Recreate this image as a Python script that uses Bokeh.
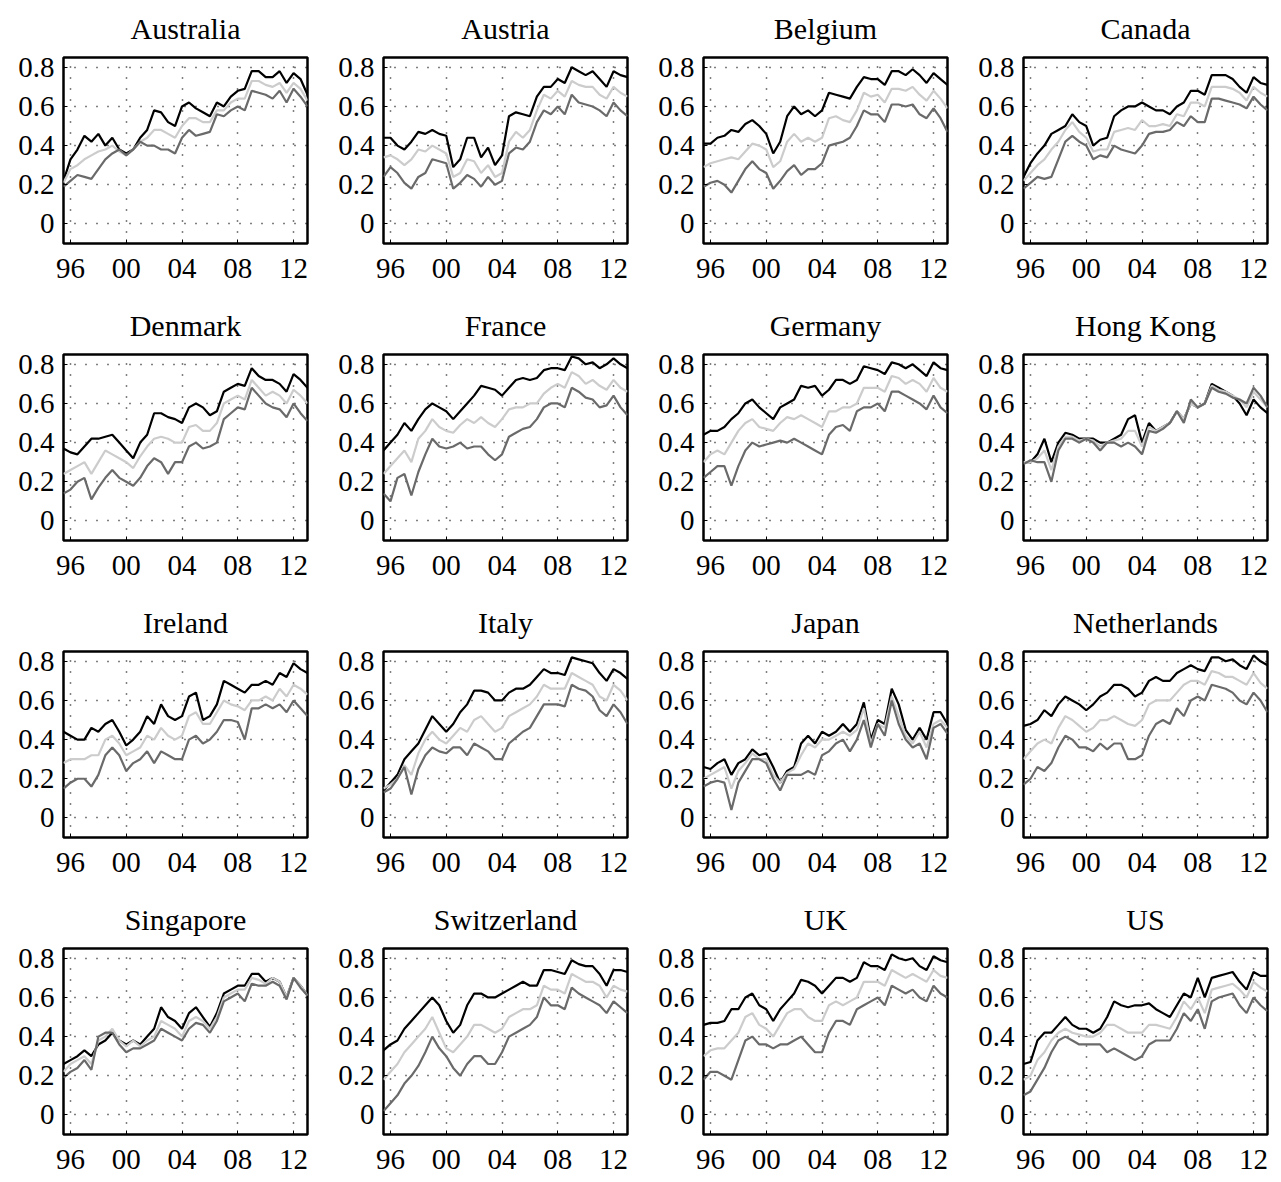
from bokeh.plotting import figure
from bokeh.layouts import gridplot
from bokeh.models import Range1d, FixedTicker, CustomJSTickFormatter
from bokeh.embed import file_html
from bokeh.resources import INLINE

years = [1995.5, 1996.0, 1996.5, 1997.0, 1997.5, 1998.0, 1998.5, 1999.0, 1999.5, 2000.0, 2000.5, 2001.0,
         2001.5, 2002.0, 2002.5, 2003.0, 2003.5, 2004.0, 2004.5, 2005.0, 2005.5, 2006.0, 2006.5, 2007.0,
         2007.5, 2008.0, 2008.5, 2009.0, 2009.5, 2010.0, 2010.5, 2011.0, 2011.5, 2012.0, 2012.5, 2013.0]
x_ticks = [1996, 2000, 2004, 2008, 2012]
x_tick_labels = ["96", "00", "04", "08", "12"]
y_ticks = [0, 0.2, 0.4, 0.6, 0.8]
y_tick_labels = ["0", "0.2", "0.4", "0.6", "0.8"]

countries = ["Australia", "Austria", "Belgium", "Canada",
             "Denmark", "France", "Germany", "Hong Kong",
             "Ireland", "Italy", "Japan", "Netherlands",
             "Singapore", "Switzerland", "UK", "US"]

australia_hi = [0.22,0.33,0.38,0.45,0.42,0.46,0.40,0.44,0.38,0.36,0.38,0.44,
                0.48,0.58,0.57,0.52,0.50,0.60,0.62,0.59,0.57,0.55,0.62,0.60,
                0.65,0.68,0.69,0.78,0.78,0.75,0.75,0.78,0.72,0.77,0.74,0.66]
australia_mid = [0.21,0.28,0.30,0.33,0.35,0.37,0.38,0.40,0.37,0.35,0.38,0.42,
                 0.44,0.48,0.48,0.46,0.44,0.50,0.54,0.54,0.52,0.52,0.58,0.58,
                 0.62,0.64,0.64,0.73,0.73,0.71,0.70,0.72,0.67,0.72,0.69,0.63]
australia_lo = [0.19,0.22,0.25,0.24,0.23,0.28,0.33,0.36,0.38,0.35,0.38,0.42,
                0.40,0.40,0.38,0.38,0.36,0.44,0.48,0.45,0.46,0.47,0.56,0.55,
                0.58,0.60,0.58,0.68,0.67,0.66,0.64,0.68,0.62,0.69,0.65,0.60]

austria_hi = [0.44,0.44,0.40,0.38,0.42,0.47,0.46,0.48,0.46,0.45,0.29,0.33,
              0.44,0.44,0.34,0.39,0.30,0.35,0.55,0.57,0.56,0.55,0.65,0.70,
              0.70,0.74,0.72,0.80,0.78,0.76,0.78,0.74,0.70,0.78,0.76,0.75]
austria_mid = [0.34,0.35,0.33,0.30,0.33,0.38,0.37,0.40,0.38,0.36,0.24,0.26,
               0.33,0.32,0.26,0.30,0.24,0.26,0.42,0.47,0.44,0.48,0.58,0.66,
               0.64,0.68,0.65,0.73,0.71,0.70,0.70,0.66,0.64,0.70,0.67,0.65]
austria_lo = [0.24,0.29,0.26,0.21,0.18,0.24,0.26,0.33,0.32,0.31,0.18,0.21,
              0.25,0.23,0.19,0.24,0.20,0.22,0.36,0.39,0.38,0.42,0.52,0.58,
              0.56,0.60,0.56,0.66,0.62,0.61,0.60,0.58,0.55,0.62,0.58,0.55]

belgium_hi = [0.41,0.41,0.44,0.45,0.48,0.47,0.51,0.53,0.50,0.46,0.36,0.42,
              0.55,0.60,0.56,0.58,0.55,0.58,0.67,0.66,0.65,0.64,0.70,0.75,
              0.74,0.74,0.71,0.78,0.78,0.76,0.79,0.76,0.72,0.77,0.74,0.71]
belgium_mid = [0.29,0.31,0.32,0.33,0.34,0.33,0.37,0.41,0.40,0.38,0.29,0.32,
               0.42,0.46,0.42,0.44,0.42,0.44,0.54,0.55,0.53,0.52,0.58,0.67,
               0.65,0.66,0.62,0.69,0.69,0.68,0.70,0.66,0.63,0.68,0.64,0.59]
belgium_lo = [0.19,0.21,0.22,0.20,0.16,0.22,0.28,0.32,0.28,0.26,0.18,0.22,
              0.27,0.30,0.25,0.28,0.28,0.31,0.40,0.41,0.42,0.44,0.50,0.58,
              0.56,0.56,0.52,0.61,0.61,0.60,0.61,0.56,0.54,0.59,0.54,0.47]

canada_hi = [0.24,0.31,0.36,0.40,0.46,0.48,0.50,0.56,0.52,0.50,0.40,0.43,
             0.44,0.55,0.58,0.60,0.60,0.62,0.60,0.58,0.58,0.56,0.60,0.62,
             0.68,0.68,0.66,0.76,0.76,0.76,0.74,0.70,0.67,0.75,0.72,0.71]
canada_mid = [0.22,0.26,0.30,0.33,0.38,0.42,0.48,0.52,0.47,0.44,0.37,0.38,
              0.38,0.47,0.48,0.49,0.48,0.53,0.50,0.50,0.51,0.50,0.56,0.55,
              0.62,0.62,0.60,0.70,0.70,0.70,0.69,0.67,0.63,0.70,0.67,0.65]
canada_lo = [0.18,0.21,0.24,0.23,0.24,0.33,0.42,0.45,0.42,0.40,0.33,0.35,
             0.34,0.40,0.38,0.37,0.36,0.40,0.46,0.47,0.47,0.48,0.52,0.50,
             0.55,0.52,0.52,0.64,0.64,0.63,0.62,0.61,0.59,0.65,0.61,0.58]

denmark_hi = [0.37,0.35,0.34,0.38,0.42,0.42,0.43,0.44,0.40,0.36,0.32,0.40,
              0.44,0.55,0.55,0.53,0.52,0.50,0.58,0.60,0.58,0.54,0.56,0.66,
              0.68,0.70,0.69,0.78,0.74,0.72,0.72,0.70,0.66,0.75,0.72,0.68]
denmark_mid = [0.24,0.26,0.28,0.30,0.24,0.30,0.36,0.34,0.32,0.30,0.27,0.33,
               0.38,0.42,0.43,0.42,0.40,0.40,0.48,0.49,0.46,0.46,0.50,0.60,
               0.62,0.64,0.62,0.72,0.68,0.64,0.66,0.64,0.60,0.67,0.64,0.60]
denmark_lo = [0.14,0.16,0.20,0.22,0.11,0.17,0.22,0.26,0.22,0.20,0.18,0.22,
              0.28,0.32,0.30,0.24,0.30,0.30,0.38,0.40,0.37,0.38,0.40,0.52,
              0.55,0.58,0.57,0.68,0.64,0.60,0.58,0.57,0.53,0.60,0.55,0.51]

france_hi = [0.36,0.40,0.44,0.50,0.46,0.52,0.57,0.60,0.58,0.56,0.52,0.56,
             0.60,0.64,0.69,0.68,0.67,0.64,0.68,0.72,0.73,0.72,0.73,0.77,
             0.78,0.78,0.77,0.84,0.83,0.80,0.81,0.78,0.80,0.83,0.80,0.78]
france_mid = [0.24,0.28,0.32,0.36,0.30,0.42,0.46,0.52,0.48,0.46,0.45,0.49,
              0.52,0.50,0.53,0.50,0.48,0.52,0.57,0.58,0.58,0.60,0.60,0.65,
              0.68,0.70,0.68,0.76,0.74,0.70,0.72,0.69,0.67,0.72,0.68,0.66]
france_lo = [0.14,0.10,0.22,0.24,0.13,0.25,0.34,0.42,0.38,0.37,0.38,0.40,
             0.37,0.38,0.38,0.34,0.31,0.34,0.43,0.45,0.47,0.48,0.52,0.58,
             0.60,0.60,0.58,0.68,0.66,0.63,0.62,0.58,0.59,0.64,0.58,0.54]

germany_hi = [0.44,0.46,0.46,0.48,0.52,0.55,0.60,0.62,0.58,0.55,0.52,0.58,
              0.60,0.62,0.69,0.68,0.69,0.64,0.67,0.72,0.72,0.70,0.72,0.79,
              0.78,0.77,0.75,0.81,0.80,0.78,0.80,0.77,0.74,0.81,0.78,0.77]
germany_mid = [0.30,0.34,0.36,0.34,0.40,0.46,0.50,0.52,0.48,0.47,0.46,0.50,
               0.53,0.52,0.54,0.52,0.50,0.48,0.56,0.56,0.58,0.58,0.60,0.68,
               0.68,0.68,0.66,0.74,0.73,0.70,0.72,0.70,0.66,0.73,0.68,0.66]
germany_lo = [0.22,0.25,0.28,0.28,0.18,0.28,0.36,0.40,0.38,0.39,0.40,0.41,
              0.40,0.42,0.40,0.38,0.36,0.34,0.44,0.48,0.49,0.46,0.56,0.58,
              0.58,0.60,0.56,0.66,0.66,0.64,0.62,0.60,0.57,0.64,0.58,0.55]

hongkong_hi = [0.30,0.30,0.34,0.42,0.30,0.40,0.45,0.44,0.42,0.42,0.42,0.40,
               0.40,0.42,0.44,0.52,0.54,0.40,0.50,0.46,0.48,0.50,0.56,0.52,
               0.60,0.58,0.60,0.70,0.68,0.66,0.64,0.60,0.54,0.62,0.58,0.55]
hongkong_mid = [0.30,0.30,0.32,0.36,0.26,0.38,0.43,0.43,0.41,0.42,0.41,0.38,
                0.40,0.41,0.42,0.46,0.46,0.38,0.48,0.46,0.48,0.50,0.56,0.52,
                0.60,0.58,0.60,0.69,0.67,0.66,0.64,0.62,0.58,0.66,0.62,0.58]
hongkong_lo = [0.29,0.31,0.30,0.30,0.20,0.36,0.42,0.42,0.40,0.42,0.40,0.36,
               0.40,0.40,0.38,0.40,0.38,0.34,0.46,0.45,0.47,0.50,0.56,0.50,
               0.62,0.58,0.60,0.68,0.66,0.65,0.63,0.62,0.60,0.68,0.64,0.58]

ireland_hi = [0.44,0.42,0.40,0.40,0.46,0.44,0.48,0.50,0.44,0.37,0.40,0.44,
              0.52,0.48,0.58,0.52,0.50,0.52,0.62,0.64,0.50,0.52,0.58,0.70,
              0.68,0.66,0.64,0.68,0.68,0.70,0.68,0.74,0.72,0.79,0.76,0.74]
ireland_mid = [0.28,0.30,0.30,0.30,0.32,0.32,0.40,0.42,0.38,0.32,0.34,0.36,
               0.42,0.40,0.46,0.42,0.40,0.42,0.52,0.54,0.48,0.48,0.54,0.60,
               0.58,0.57,0.55,0.60,0.60,0.62,0.60,0.66,0.62,0.68,0.66,0.63]
ireland_lo = [0.15,0.18,0.20,0.20,0.16,0.22,0.32,0.36,0.32,0.24,0.28,0.30,
              0.34,0.28,0.34,0.32,0.30,0.30,0.40,0.42,0.38,0.40,0.44,0.50,
              0.50,0.49,0.40,0.56,0.56,0.58,0.56,0.58,0.54,0.60,0.56,0.52]

italy_hi = [0.14,0.18,0.22,0.30,0.34,0.38,0.45,0.52,0.48,0.44,0.48,0.54,
            0.58,0.65,0.65,0.64,0.60,0.60,0.64,0.66,0.66,0.68,0.72,0.76,
            0.74,0.74,0.73,0.82,0.81,0.80,0.79,0.74,0.70,0.76,0.74,0.71]
italy_mid = [0.15,0.17,0.20,0.27,0.22,0.33,0.40,0.44,0.40,0.38,0.42,0.46,
             0.44,0.50,0.52,0.48,0.44,0.46,0.52,0.54,0.56,0.58,0.62,0.68,
             0.66,0.66,0.66,0.74,0.72,0.70,0.68,0.62,0.60,0.68,0.65,0.60]
italy_lo = [0.13,0.15,0.20,0.26,0.12,0.25,0.32,0.36,0.34,0.33,0.36,0.36,
            0.32,0.38,0.36,0.34,0.30,0.30,0.38,0.41,0.44,0.46,0.52,0.58,
            0.58,0.58,0.57,0.68,0.66,0.65,0.62,0.55,0.52,0.58,0.54,0.48]

japan_hi = [0.26,0.25,0.28,0.30,0.22,0.28,0.30,0.35,0.32,0.33,0.26,0.18,
            0.24,0.26,0.38,0.42,0.38,0.44,0.42,0.44,0.48,0.44,0.48,0.59,
            0.40,0.50,0.48,0.66,0.58,0.45,0.40,0.46,0.40,0.54,0.54,0.48]
japan_mid = [0.20,0.22,0.24,0.26,0.15,0.24,0.28,0.33,0.30,0.30,0.22,0.18,
             0.23,0.25,0.32,0.38,0.36,0.40,0.40,0.42,0.44,0.42,0.45,0.56,
             0.38,0.48,0.46,0.62,0.52,0.42,0.38,0.44,0.36,0.48,0.50,0.46]
japan_lo = [0.16,0.18,0.19,0.18,0.04,0.18,0.24,0.30,0.30,0.28,0.20,0.14,
            0.22,0.22,0.22,0.24,0.22,0.32,0.34,0.38,0.40,0.34,0.40,0.50,
            0.36,0.48,0.42,0.60,0.48,0.40,0.36,0.38,0.30,0.46,0.48,0.43]

netherlands_hi = [0.47,0.48,0.50,0.55,0.52,0.58,0.62,0.60,0.58,0.55,0.58,0.62,
                  0.64,0.68,0.68,0.66,0.62,0.64,0.70,0.72,0.70,0.70,0.74,0.76,
                  0.78,0.76,0.75,0.82,0.82,0.80,0.81,0.78,0.76,0.83,0.80,0.78]
netherlands_mid = [0.30,0.34,0.38,0.40,0.38,0.46,0.52,0.50,0.47,0.44,0.46,0.50,
                   0.50,0.52,0.50,0.48,0.47,0.50,0.58,0.60,0.60,0.60,0.64,0.68,
                   0.70,0.70,0.68,0.75,0.74,0.72,0.72,0.70,0.68,0.74,0.69,0.66]
netherlands_lo = [0.17,0.20,0.26,0.24,0.28,0.36,0.42,0.40,0.36,0.36,0.34,0.38,
                  0.35,0.38,0.38,0.30,0.30,0.32,0.42,0.48,0.50,0.48,0.56,0.52,
                  0.60,0.62,0.60,0.68,0.67,0.66,0.64,0.60,0.58,0.64,0.60,0.54]

singapore_hi = [0.26,0.28,0.30,0.33,0.30,0.36,0.38,0.42,0.38,0.36,0.38,0.36,
                0.40,0.44,0.55,0.50,0.48,0.44,0.52,0.55,0.50,0.45,0.52,0.62,
                0.64,0.66,0.66,0.72,0.72,0.68,0.70,0.68,0.60,0.70,0.66,0.61]
singapore_mid = [0.22,0.26,0.28,0.30,0.26,0.38,0.40,0.44,0.38,0.35,0.38,0.35,
                 0.38,0.40,0.48,0.46,0.44,0.40,0.48,0.50,0.48,0.44,0.50,0.60,
                 0.62,0.64,0.64,0.70,0.69,0.67,0.70,0.68,0.60,0.70,0.66,0.61]
singapore_lo = [0.19,0.22,0.24,0.28,0.23,0.40,0.42,0.42,0.36,0.32,0.34,0.34,
                0.36,0.38,0.44,0.42,0.40,0.38,0.44,0.47,0.46,0.42,0.48,0.58,
                0.60,0.62,0.58,0.67,0.66,0.66,0.68,0.66,0.59,0.70,0.65,0.61]

switzerland_hi = [0.33,0.36,0.38,0.44,0.48,0.52,0.56,0.60,0.56,0.48,0.42,0.46,
                  0.56,0.62,0.62,0.60,0.60,0.62,0.64,0.66,0.68,0.66,0.66,0.74,
                  0.74,0.73,0.72,0.79,0.77,0.76,0.76,0.72,0.66,0.74,0.74,0.73]
switzerland_mid = [0.18,0.22,0.26,0.32,0.36,0.40,0.44,0.50,0.42,0.34,0.32,0.36,
                   0.40,0.46,0.46,0.44,0.42,0.44,0.50,0.52,0.54,0.54,0.56,0.66,
                   0.64,0.64,0.62,0.72,0.70,0.68,0.68,0.66,0.60,0.66,0.64,0.63]
switzerland_lo = [0.02,0.06,0.10,0.16,0.20,0.25,0.32,0.40,0.34,0.30,0.24,0.20,
                  0.26,0.30,0.30,0.26,0.26,0.32,0.40,0.42,0.44,0.46,0.50,0.60,
                  0.56,0.56,0.54,0.65,0.62,0.60,0.58,0.56,0.52,0.58,0.55,0.52]

uk_hi = [0.46,0.47,0.47,0.48,0.54,0.54,0.60,0.62,0.56,0.54,0.48,0.54,
         0.58,0.62,0.69,0.68,0.66,0.62,0.66,0.70,0.70,0.68,0.70,0.78,
         0.76,0.76,0.74,0.82,0.80,0.79,0.80,0.76,0.74,0.81,0.79,0.78]
uk_mid = [0.30,0.33,0.34,0.34,0.38,0.42,0.50,0.52,0.46,0.44,0.40,0.46,
          0.52,0.54,0.54,0.50,0.48,0.48,0.56,0.58,0.56,0.58,0.60,0.68,
          0.68,0.68,0.66,0.74,0.72,0.70,0.72,0.70,0.68,0.74,0.71,0.70]
uk_lo = [0.18,0.22,0.22,0.20,0.18,0.28,0.38,0.40,0.36,0.36,0.34,0.36,
         0.36,0.38,0.40,0.36,0.32,0.32,0.42,0.48,0.48,0.46,0.54,0.56,
         0.58,0.60,0.56,0.66,0.64,0.62,0.64,0.60,0.58,0.66,0.62,0.60]

us_hi = [0.26,0.27,0.38,0.42,0.42,0.46,0.50,0.46,0.44,0.44,0.42,0.44,
         0.50,0.58,0.56,0.55,0.56,0.56,0.57,0.54,0.52,0.50,0.56,0.62,
         0.60,0.70,0.60,0.70,0.71,0.72,0.73,0.68,0.64,0.73,0.71,0.71]
us_mid = [0.18,0.20,0.28,0.32,0.38,0.42,0.44,0.42,0.41,0.40,0.40,0.42,
          0.46,0.46,0.44,0.42,0.42,0.42,0.46,0.46,0.45,0.44,0.50,0.58,
          0.54,0.60,0.52,0.64,0.65,0.66,0.67,0.64,0.60,0.68,0.65,0.63]
us_lo = [0.10,0.12,0.18,0.24,0.32,0.38,0.40,0.38,0.36,0.36,0.36,0.36,
         0.32,0.34,0.32,0.30,0.28,0.30,0.36,0.38,0.38,0.38,0.44,0.52,
         0.48,0.54,0.44,0.58,0.60,0.61,0.62,0.56,0.52,0.60,0.56,0.53]

series_hi = [australia_hi, austria_hi, belgium_hi, canada_hi, denmark_hi, france_hi, germany_hi, hongkong_hi,
             ireland_hi, italy_hi, japan_hi, netherlands_hi, singapore_hi, switzerland_hi, uk_hi, us_hi]
series_mid = [australia_mid, austria_mid, belgium_mid, canada_mid, denmark_mid, france_mid, germany_mid, hongkong_mid,
              ireland_mid, italy_mid, japan_mid, netherlands_mid, singapore_mid, switzerland_mid, uk_mid, us_mid]
series_lo = [australia_lo, austria_lo, belgium_lo, canada_lo, denmark_lo, france_lo, germany_lo, hongkong_lo,
             ireland_lo, italy_lo, japan_lo, netherlands_lo, singapore_lo, switzerland_lo, uk_lo, us_lo]

FONT = "Liberation Serif"
x_fmt = CustomJSTickFormatter(args=dict(t=x_ticks, l=x_tick_labels),
                              code="const i = t.indexOf(Math.round(tick)); return i >= 0 ? l[i] : '';")
y_fmt = CustomJSTickFormatter(args=dict(t=y_ticks, l=y_tick_labels),
                              code="for (let i = 0; i < t.length; i++) { if (Math.abs(t[i] - tick) < 1e-6) return l[i]; } return '';")

FW, FH = 244, 186
COL_LEFT = [63, 55, 55, 55]
COL_RIGHT = [21, 21, 21, 10]
ROW_TOP = [57, 57, 57, 57]
ROW_BOTTOM = [54, 54, 54, 48]


def make_panel(idx):
    col = idx % 4
    rw = idx // 4
    w = COL_LEFT[col] + FW + COL_RIGHT[col]
    h = ROW_TOP[rw] + FH + ROW_BOTTOM[rw]
    p = figure(width=w, height=h, output_backend="svg", toolbar_location=None,
               x_range=Range1d(1995.5, 2013.0), y_range=Range1d(-0.1, 0.85),
               min_border_left=COL_LEFT[col], min_border_right=COL_RIGHT[col],
               min_border_top=ROW_TOP[rw], min_border_bottom=ROW_BOTTOM[rw],
               title=countries[idx])
    p.title.align = "center"
    p.title.vertical_align = "top"
    p.title.text_font = FONT
    p.title.text_font_size = "30px"
    p.title.text_font_style = "normal"
    p.title.text_color = "black"
    p.title.standoff = 21
    p.background_fill_color = "white"
    p.border_fill_color = "white"
    p.outline_line_color = "black"
    p.outline_line_width = 2.5
    p.outline_line_alpha = 1.0

    p.xaxis.ticker = FixedTicker(ticks=x_ticks)
    p.yaxis.ticker = FixedTicker(ticks=y_ticks)
    p.xaxis.formatter = x_fmt
    p.yaxis.formatter = y_fmt
    for ax in (p.xaxis[0], p.yaxis[0]):
        ax.axis_line_color = None
        ax.major_tick_in = 4
        ax.major_tick_out = 0
        ax.minor_tick_line_color = None
        ax.major_tick_line_color = "black"
        ax.major_label_text_font = FONT
        ax.major_label_text_font_size = "29px"
        ax.major_label_text_color = "black"
    p.xaxis.major_label_standoff = 15
    p.yaxis.major_label_standoff = 9

    p.xgrid.ticker = FixedTicker(ticks=x_ticks)
    p.ygrid.ticker = FixedTicker(ticks=y_ticks)
    for g in (p.xgrid[0], p.ygrid[0]):
        g.grid_line_color = "black"
        g.grid_line_width = 1.5
        g.grid_line_dash = "1 10"

    p.line(years, series_hi[idx], line_color="#000000", line_width=2.2)
    p.line(years, series_mid[idx], line_color="#cccccc", line_width=2.2)
    p.line(years, series_lo[idx], line_color="#6a6a6a", line_width=2.2)
    return p


panels = [make_panel(i) for i in range(16)]
grid = gridplot([panels[r * 4:(r + 1) * 4] for r in range(4)], toolbar_location=None)

open("out.html", "w").write(file_html(grid, INLINE))
